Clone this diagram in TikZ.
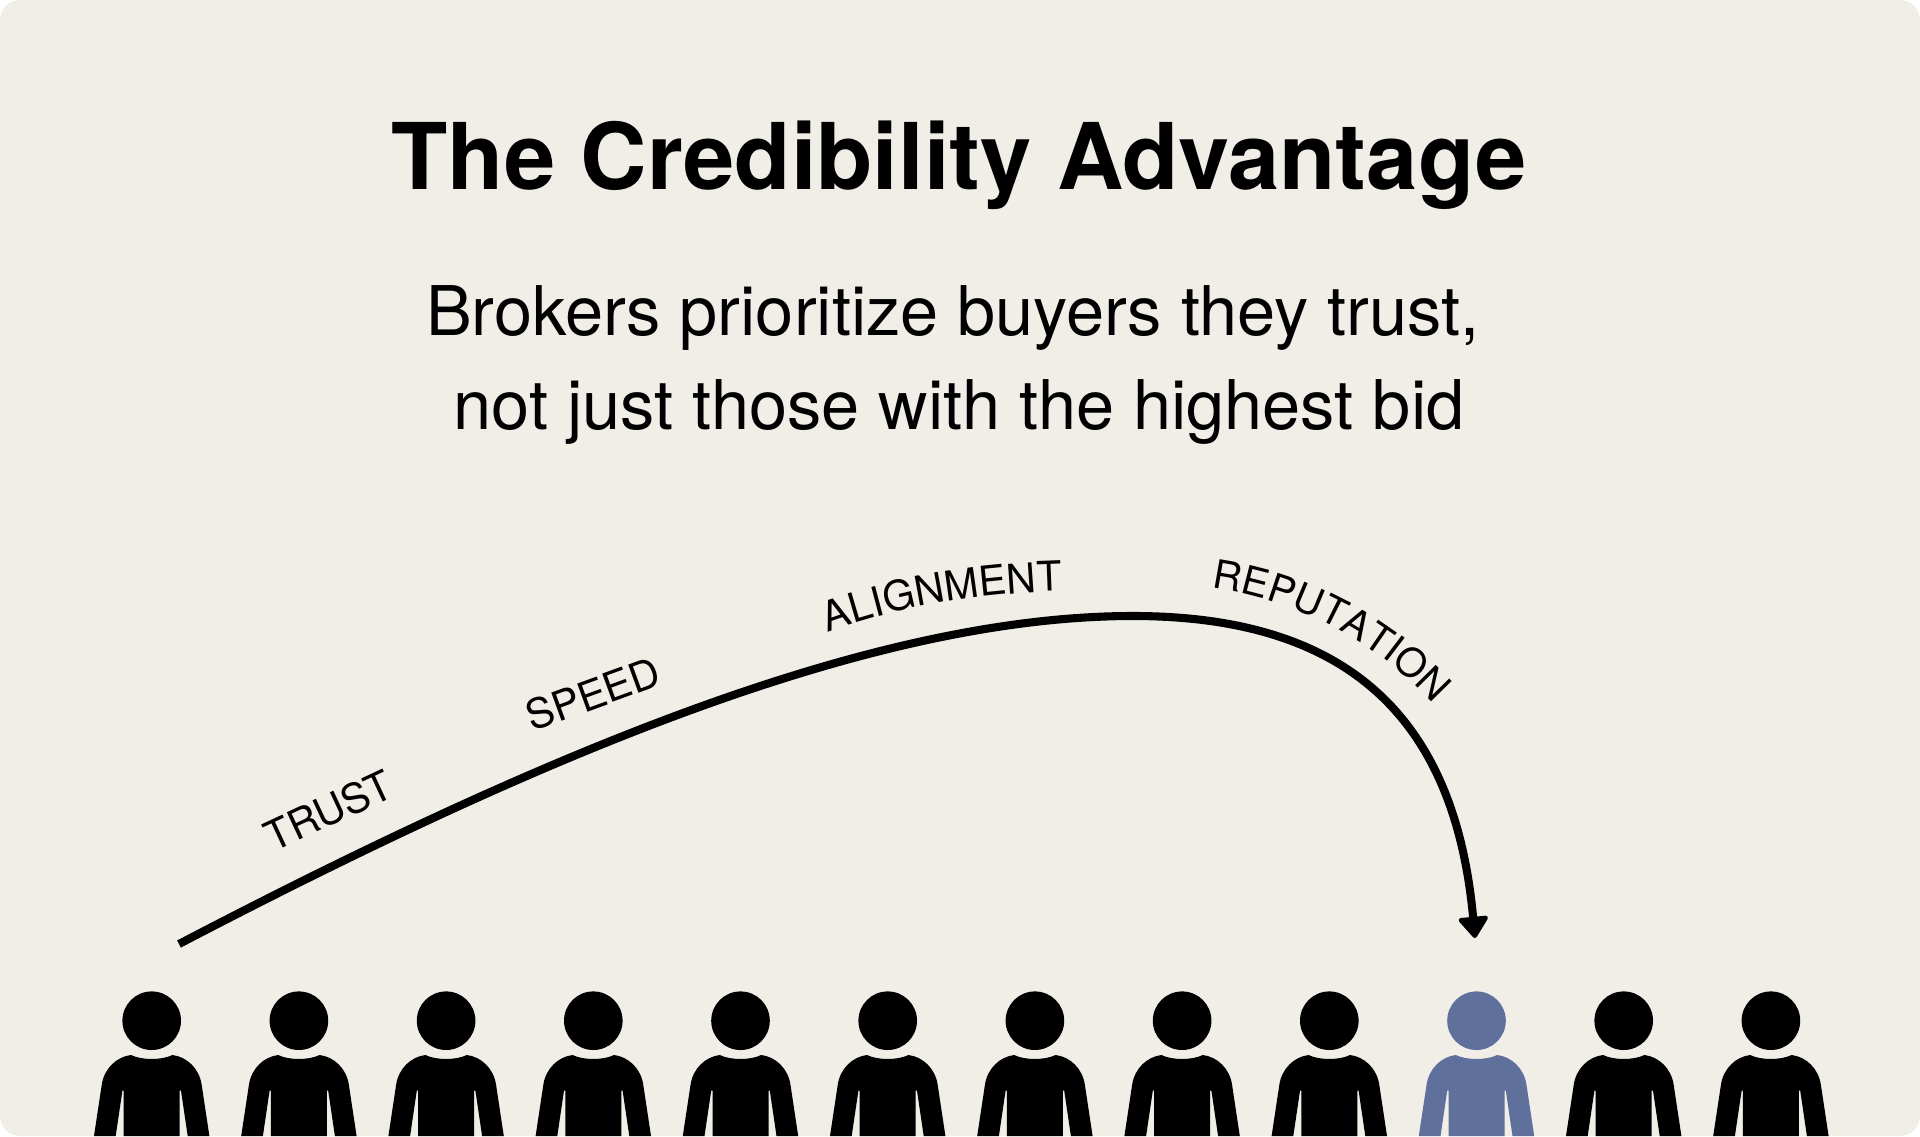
\documentclass[tikz,border=0pt]{standalone}
\usepackage{fontspec}
\setmainfont{TeX Gyre Heros}
\usetikzlibrary{arrows.meta,decorations.text}
\definecolor{paper}{HTML}{F0EEE6}
\definecolor{pickblue}{HTML}{5F709D}
\newcommand{\labelfont}{\fontsize{23.4pt}{26pt}\selectfont}
\newcommand{\labelfontb}{\fontsize{22.6pt}{26pt}\selectfont}
\tikzset{
    heading/.style={anchor=base,inner sep=0pt,font=\bfseries\fontsize{52.4pt}{58pt}\selectfont},
    subline/.style={anchor=base,inner sep=0pt,font=\fontsize{39pt}{45pt}\selectfont},
    curvelabel/.style={anchor=base,inner sep=0pt,font=\labelfont},
    person/.pic={
        \fill (0,0) circle[radius=29.3];
        \fill (-20.7,34.3) .. controls (-10,39.6) and (10,39.6) .. (20.7,34.3)
            .. controls (35,36) and (47.7,47.7) .. (50,64.3) -- (57.7,115.3) -- (36,115.3) -- (29.3,70)
            -- (28,70) -- (28,115.3) -- (-28,115.3) -- (-28,70) -- (-29.3,70) -- (-36,115.3)
            -- (-57.7,115.3) -- (-50,64.3) .. controls (-47.7,47.7) and (-35,36) .. cycle;
    }
}
\begin{document}
\begin{tikzpicture}[x=0.02cm,y=-0.02cm,line join=round]
    \useasboundingbox (0,0) rectangle (1920,1136);
    \fill[paper,rounded corners=0.4cm] (0,0) rectangle (1920,1136);
    \node[heading] (title) at (959,189) {The Credibility Advantage};
    \node[subline] (line1) at (953,335) {Brokers prioritize buyers they trust,};
    \node[subline] (line2) at (959,429) {not just those with the highest bid};
    % people along the bottom
    \foreach \i/\col in {0/black,1/black,2/black,3/black,4/black,5/black,6/black,7/black,8/black,9/pickblue,10/black,11/black}
        \pic[fill=\col] (p\i) at ({151.7+147.2*\i},1020.7) {person};
    \coordinate (from) at (179,944);
    \coordinate (top) at (1133,616);
    \coordinate (to) at (1475,938);
    \draw[line width=4.6pt,-{Triangle[length=13pt,width=18.5pt,line width=2.5pt,round]}] (from) .. controls (560,745) and (880,616) .. (top)
        .. controls (1350,616) and (1455,720) .. (to);
    \node[curvelabel,rotate=25] (trust) at (335,824) {TRUST};
    \node[curvelabel,rotate=20] (speed) at (598,708) {SPEED};
    \path[decorate,decoration={text along path,text align=center,text={|\labelfont|ALIGNMENT}}]
        (826,633) .. controls (900,605) and (985,593) .. (1064,591);
    \path[decorate,decoration={text along path,text align=center,text={|\labelfontb|REPUTATION}}]
        (1220,589) .. controls (1290,600) and (1368,635) .. (1428,698);
\end{tikzpicture}
\end{document}
